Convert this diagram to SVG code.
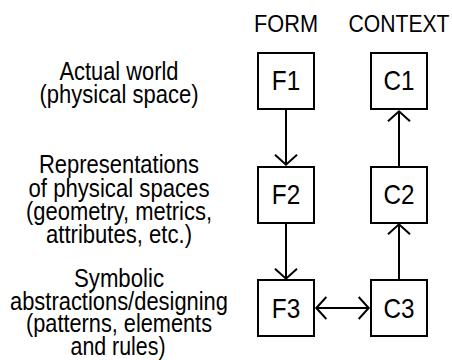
<svg xmlns="http://www.w3.org/2000/svg" width="452" height="360" viewBox="0 0 452 360">
  <defs>
    <style>
      text { font-family: "Liberation Sans", Arial, sans-serif; fill: #000; }
      .row { font-size: 25px; text-anchor: middle; }
      .head { font-size: 24px; text-anchor: middle; }
      .lbl { font-size: 28px; text-anchor: middle; }
      .box { fill: #fff; stroke: #000; stroke-width: 2; }
      .link { fill: none; stroke: #000; stroke-width: 2; }
    </style>
    <marker id="chev" viewBox="-12 -12 14 24" refX="0" refY="0" markerWidth="14" markerHeight="24" markerUnits="userSpaceOnUse" orient="auto-start-reverse">
      <path d="M-10,-11 L0,0 L-10,11" fill="none" stroke="#000" stroke-width="2"/>
    </marker>
  </defs>

  <!-- row descriptions -->
  <g id="row-actual">
    <text class="row" x="119" y="80" textLength="119" lengthAdjust="spacingAndGlyphs">Actual world</text>
    <text class="row" x="119" y="102.7" textLength="159" lengthAdjust="spacingAndGlyphs">(physical space)</text>
  </g>
  <g id="row-representations">
    <text class="row" x="119" y="173.3" textLength="160" lengthAdjust="spacingAndGlyphs">Representations</text>
    <text class="row" x="119" y="196.5" textLength="181" lengthAdjust="spacingAndGlyphs">of physical spaces</text>
    <text class="row" x="119" y="219.8" textLength="186" lengthAdjust="spacingAndGlyphs">(geometry, metrics,</text>
    <text class="row" x="119" y="243" textLength="146" lengthAdjust="spacingAndGlyphs">attributes, etc.)</text>
  </g>
  <g id="row-symbolic">
    <text class="row" x="119" y="286.7" textLength="90" lengthAdjust="spacingAndGlyphs">Symbolic</text>
    <text class="row" x="119" y="309.5" textLength="218" lengthAdjust="spacingAndGlyphs">abstractions/designing</text>
    <text class="row" x="119" y="332.3" textLength="186" lengthAdjust="spacingAndGlyphs">(patterns, elements</text>
    <text class="row" x="118" y="355" textLength="95" lengthAdjust="spacingAndGlyphs">and rules)</text>
  </g>

  <!-- column headers -->
  <g id="col-form">
    <text class="head" x="286" y="31.5" textLength="64" lengthAdjust="spacingAndGlyphs">FORM</text>
  </g>
  <g id="col-context">
    <text class="head" x="399" y="31.5" textLength="101" lengthAdjust="spacingAndGlyphs">CONTEXT</text>
  </g>

  <!-- nodes -->
  <g id="F1">
    <rect class="box" x="258" y="53" width="56" height="56"/>
    <text class="lbl" x="286" y="90" textLength="28.4" lengthAdjust="spacingAndGlyphs">F1</text>
  </g>
  <g id="F2">
    <rect class="box" x="258" y="167" width="56" height="56"/>
    <text class="lbl" x="286" y="203.5" textLength="28.4" lengthAdjust="spacingAndGlyphs">F2</text>
  </g>
  <g id="F3">
    <rect class="box" x="258" y="280" width="56" height="56"/>
    <text class="lbl" x="286" y="318" textLength="28.4" lengthAdjust="spacingAndGlyphs">F3</text>
  </g>
  <g id="C1">
    <rect class="box" x="371" y="53" width="56" height="56"/>
    <text class="lbl" x="399" y="90" textLength="31" lengthAdjust="spacingAndGlyphs">C1</text>
  </g>
  <g id="C2">
    <rect class="box" x="371" y="167" width="56" height="56"/>
    <text class="lbl" x="399" y="203.5" textLength="31" lengthAdjust="spacingAndGlyphs">C2</text>
  </g>
  <g id="C3">
    <rect class="box" x="371" y="280" width="56" height="56"/>
    <text class="lbl" x="399" y="318" textLength="31" lengthAdjust="spacingAndGlyphs">C3</text>
  </g>

  <!-- connectors -->
  <g id="connectors">
    <path class="link" d="M286,110 V164.7" marker-end="url(#chev)"/>
    <path class="link" d="M286,224 V278.7" marker-end="url(#chev)"/>
    <path class="link" d="M399,166 V111.3" marker-end="url(#chev)"/>
    <path class="link" d="M399,279 V224.3" marker-end="url(#chev)"/>
    <path class="link" d="M316.3,308 H368.7" marker-start="url(#chev)" marker-end="url(#chev)"/>
  </g>
</svg>
